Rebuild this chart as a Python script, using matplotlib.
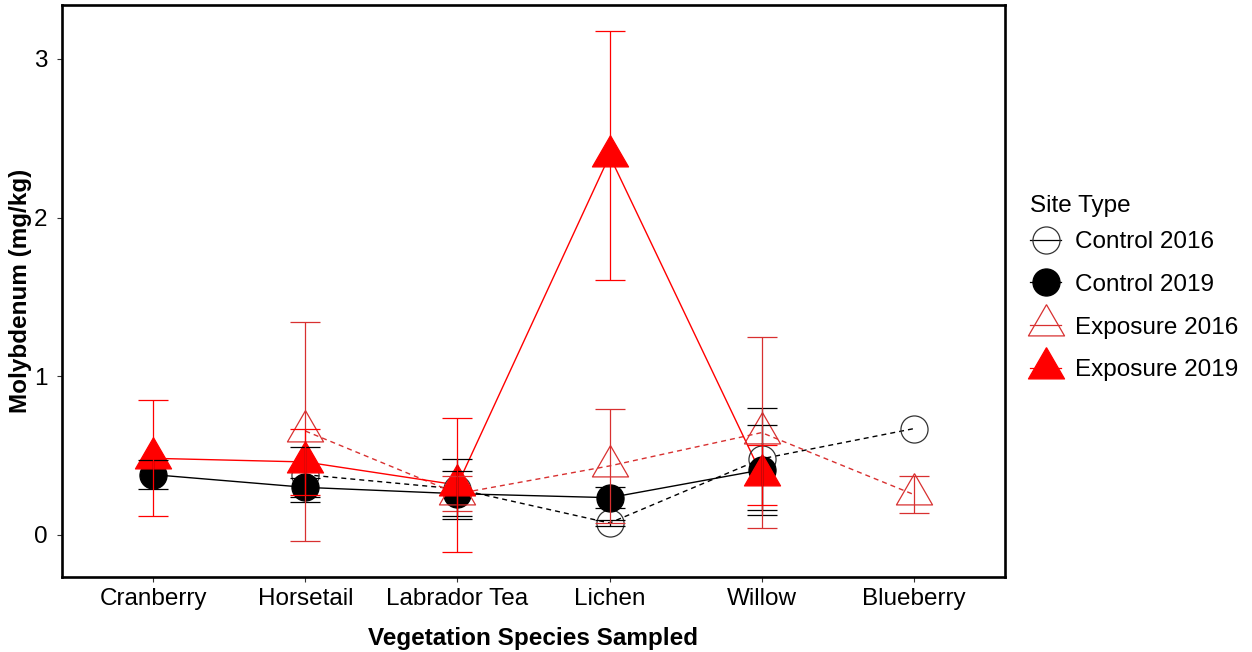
import numpy as np
import matplotlib
matplotlib.use("Agg")
import matplotlib.pyplot as plt
from matplotlib.lines import Line2D

# ---------------- data ----------------
species = ["Cranberry", "Horsetail", "Labrador Tea", "Lichen", "Willow", "Blueberry"]
series_names = ["Control 2016", "Control 2019", "Exposure 2016", "Exposure 2019"]
nan = np.nan
control_2016 = [nan, 0.38, 0.29, 0.075, 0.48, 0.67]
control_2016_err = [nan, 0.175, 0.19, 0.02, 0.32, nan]
control_2019 = [0.38, 0.30, 0.26, 0.235, 0.41, nan]
control_2019_err = [0.09, 0.06, 0.14, 0.066, 0.285, nan]
exposure_2016 = [nan, 0.655, 0.26, 0.435, 0.645, 0.255]
exposure_2016_err = [nan, 0.69, 0.11, 0.36, 0.60, 0.116]
exposure_2019 = [0.483, 0.46, 0.315, 2.39, 0.38, nan]
exposure_2019_err = [0.365, 0.21, 0.425, 0.785, 0.19, nan]
y_ticks = [0, 1, 2, 3]

# ---------------- styling ----------------
plt.rcParams["font.family"] = ["Liberation Sans", "DejaVu Sans"]
FS = 17.5
RED = "#FF0000"
# R-style triangle centred on centroid (closed path so the open version draws all sides)
tri = [(0, 1), (-0.866, -0.5), (0.866, -0.5), (0, 1)]

styles = [
    dict(color="black", ls=(0, (3.6, 2.9)), marker="o", ms=19.5, mfc="none", mec="#333333", mew=0.9),
    dict(color="black", ls="-", marker="o", ms=19.5, mfc="black", mec="black", mew=0.9),
    dict(color="#D83030", ls=(0, (3.6, 2.9)), marker=tri, ms=30, mfc="none", mec="#D83030", mew=0.9),
    dict(color=RED, ls="-", marker=tri, ms=30, mfc=RED, mec=RED, mew=0.9),
]
values = [control_2016, control_2019, exposure_2016, exposure_2019]
errors = [control_2016_err, control_2019_err, exposure_2016_err, exposure_2019_err]

fig = plt.figure(figsize=(12.52, 6.52), dpi=100)
ax = fig.add_axes([62 / 1252, 1 - 577 / 652, (1005 - 62) / 1252, (577 - 5) / 652])

x = np.arange(1, len(species) + 1)

# lines
for v, st in zip(values, styles):
    v = np.array(v, dtype=float)
    m = ~np.isnan(v)
    ax.plot(x[m], v[m], color=st["color"], ls=st["ls"], lw=1.0, zorder=2)

# points
for v, st in zip(values, styles):
    v = np.array(v, dtype=float)
    m = ~np.isnan(v)
    ax.plot(x[m], v[m], ls="none", marker=st["marker"], ms=st["ms"],
            mfc=st["mfc"], mec=st["mec"], mew=st["mew"], zorder=3)

# error bars
for v, e, st in zip(values, errors, styles):
    v = np.array(v, dtype=float)
    e = np.array(e, dtype=float)
    m = ~np.isnan(v) & ~np.isnan(e)
    ax.errorbar(x[m], v[m], yerr=e[m], fmt="none", ecolor=st["color"],
                elinewidth=0.9, capsize=10.8, capthick=0.9, zorder=4)

ax.set_xlim(0.4, 6.6)
ax.set_ylim(-0.265, 3.34)
ax.set_xticks(x)
ax.set_xticklabels(species, fontsize=FS)
ax.set_yticks(y_ticks)
ax.set_yticklabels([str(t) for t in y_ticks], fontsize=FS)
ax.tick_params(axis="x", length=3.5, width=0.8, color="#333333", pad=4.5)
ax.tick_params(axis="y", length=3.5, width=0.8, color="#333333", pad=7.0)
for sp in ax.spines.values():
    sp.set_linewidth(1.9)
    sp.set_color("black")

ax.set_xlabel("Vegetation Species Sampled", fontsize=FS, fontweight="bold", labelpad=12)
ax.set_ylabel("Molybdenum (mg/kg)", fontsize=FS, fontweight="bold", labelpad=1.5)

# legend
handles = []
for name, st in zip(series_names, styles):
    handles.append(Line2D([0], [0], color=st["color"], ls="-", lw=0.9,
                          marker=st["marker"], ms=st["ms"], mfc=st["mfc"],
                          mec=st["mec"], mew=st["mew"], label=name))
leg = fig.legend(handles=handles, title="Site Type", loc="upper left",
                 bbox_to_anchor=(1020 / 1252, 1 - 185 / 652), frameon=False,
                 fontsize=FS, title_fontsize=FS, handlelength=1.3,
                 handletextpad=0.55, labelspacing=0.85, borderaxespad=0)
leg._legend_box.align = "left"
leg._legend_box.sep = 10.5

fig.savefig("out.png", dpi=100)
